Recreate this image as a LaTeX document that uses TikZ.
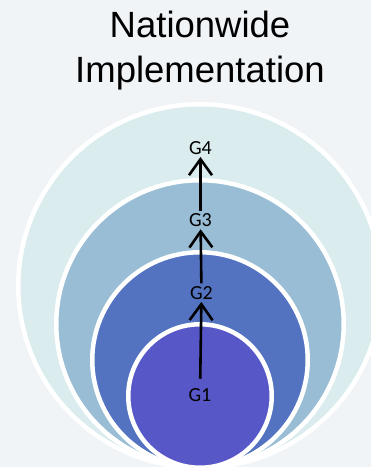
\documentclass[tikz,border=0pt]{standalone}
\usepackage{fontspec}
\setmainfont{Liberation Sans}
\newfontfamily\glabelfont{Carlito}
\usetikzlibrary{arrows.meta}

\definecolor{bgback}{HTML}{F0F4F7}
\definecolor{ringfour}{HTML}{DAECEE}
\definecolor{ringthree}{HTML}{98BDD5}
\definecolor{ringtwo}{HTML}{5373C1}
\definecolor{ringone}{HTML}{5757C7}

\tikzset{
	ring/.style = {draw = white, line width = 4.5pt},
	headline/.style = {font = \fontsize{36.5}{44}\selectfont, anchor = base, inner sep = 0pt},
	glabel/.style = {font = \glabelfont\fontsize{20}{24}\selectfont, inner sep = 2.5pt},
	steparrow/.style = {line width = 2.6pt, -{Straight Barb[length = 16pt, width = 23pt]}}
}

\begin{document}
\begin{tikzpicture}[x = 1pt, y = 1pt]
	 \useasboundingbox (0, 0) rectangle (371, 467);
	 \clip (0, 0) rectangle (371, 467);
	 \fill[bgback] (0, 0) rectangle (371, 467);

	 % rings, biggest first, all touching at the bottom
	 \foreach \r/\c in {184/ringfour, 146/ringthree, 110/ringtwo, 74/ringone}
	 \filldraw[ring, fill = \c] (200, \r - 3) circle (\r - 2.25);

	 \node[headline] (title) at (200, 429.5) {Nationwide};
	 \node[headline] (subtitle) at (200, 384) {Implementation};

	 \node[glabel] (g1) at (200, 72) {G1};
	 \node[glabel] (g2) at (201.5, 174.3) {G2};
	 \node[glabel] (g3) at (200.5, 247) {G3};
	 \node[glabel] (g4) at (200.5, 319.3) {G4};

	 \draw[steparrow, shorten < = 7pt] (g1) -- (g2);
	 \draw[steparrow] (g2) -- (g3);
	 \draw[steparrow] (g3) -- (g4);
\end{tikzpicture}
\end{document}
